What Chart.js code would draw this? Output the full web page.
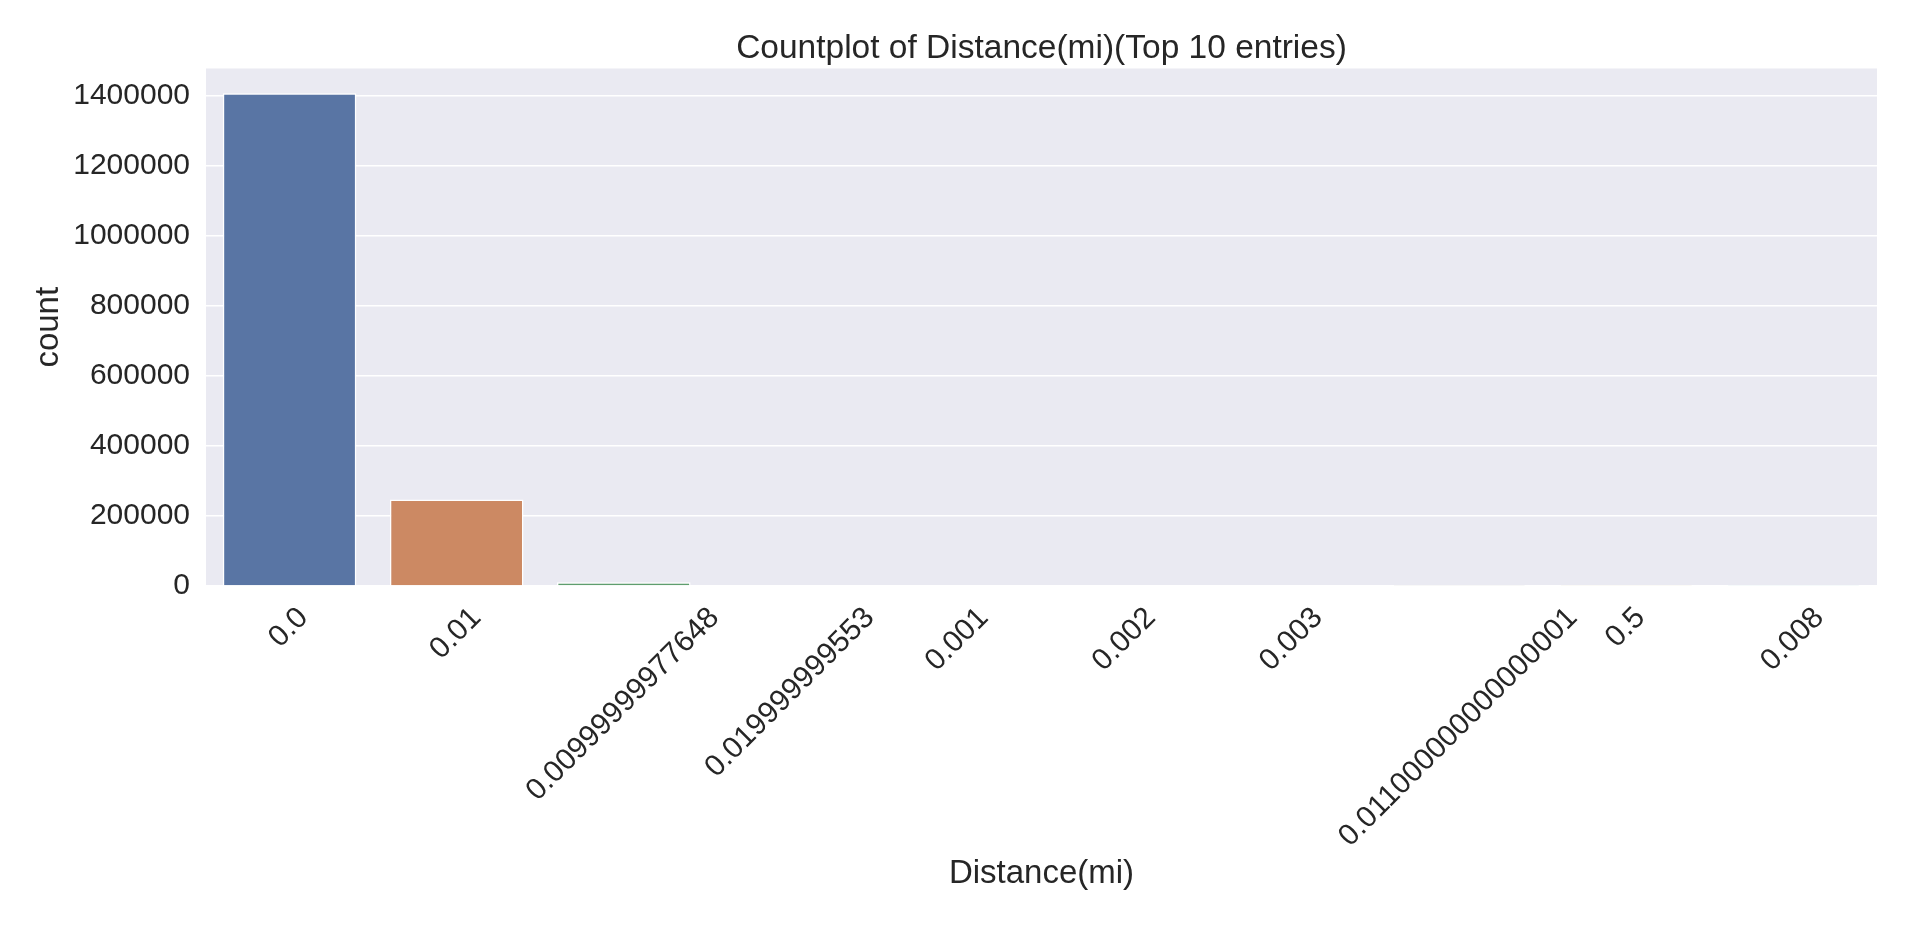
<!DOCTYPE html>
<html lang="en">
<head>
<meta charset="UTF-8">
<title>Countplot of Distance(mi)(Top 10 entries)</title>
<script src="https://cdn.jsdelivr.net/npm/chart.js@4.4.1/dist/chart.umd.min.js"></script>
<style>
    html, body { margin: 0; padding: 0; background: #ffffff; }
    #chart { display: block; }
</style>
</head>
<body>
<canvas id="chart" width="1920" height="927"></canvas>
<script>
    // data
    const categories = ['0.0', '0.01', '0.00999999977648', '0.019999999553', '0.001',
                        '0.002', '0.003', '0.011000000000000001', '0.5', '0.008'];
    const counts = [1408600, 247000, 10500, 2800, 2600, 1900, 1700, 1500, 1400, 1300];
    const barColors = ['#5975a4', '#cc8963', '#5f9e6e', '#b55d60', '#857aab',
                       '#8d7866', '#d095bf', '#8c8c8c', '#c1b37f', '#71aec0'];
    const yTicks = [0, 200000, 400000, 600000, 800000, 1000000, 1200000, 1400000];

    const textColor = '#262626';
    const tickSize = 30;
    const labelSize = 33;

    Chart.defaults.font.family = "'Liberation Sans', Arial, sans-serif";
    Chart.defaults.color = textColor;

    // white page + grey seaborn plot area
    const background = {
        id: 'background',
        beforeDraw(chart) {
            const { ctx, chartArea: a } = chart;
            ctx.save();
            ctx.fillStyle = '#ffffff';
            ctx.fillRect(0, 0, chart.width, chart.height);
            ctx.fillStyle = '#eaeaf2';
            ctx.fillRect(a.left, a.top, a.right - a.left, a.bottom - a.top);
            ctx.restore();
        }
    };

    // x labels rotated 45deg and centred on the tick, like matplotlib
    const centredXLabels = {
        id: 'centredXLabels',
        afterDraw(chart) {
            const { ctx, chartArea } = chart;
            const xs = chart.scales.x;
            const top = chartArea.bottom + 19;
            ctx.save();
            ctx.font = tickSize + "px 'Liberation Sans', Arial, sans-serif";
            ctx.fillStyle = textColor;
            ctx.textAlign = 'center';
            ctx.textBaseline = 'alphabetic';
            categories.forEach((label, i) => {
                const w = ctx.measureText(label).width;
                const side = (w + 0.6 * tickSize) / Math.SQRT2;
                ctx.save();
                ctx.translate(xs.getPixelForTick(i) - 2.5, top + side / 2);
                ctx.rotate(-Math.PI / 4);
                ctx.fillText(label, 0, 0.358 * tickSize);
                ctx.restore();
            });
            ctx.restore();
        }
    };

    new Chart(document.getElementById('chart'), {
        type: 'bar',
        data: {
            labels: categories,
            datasets: [{
                data: counts,
                backgroundColor: barColors,
                borderColor: '#ffffff',
                borderWidth: 1.5,
                barPercentage: 0.8,
                categoryPercentage: 1.0
            }]
        },
        options: {
            responsive: false,
            animation: false,
            devicePixelRatio: 1,
            layout: { padding: { left: 0, right: 43, top: 0, bottom: 0 } },
            plugins: {
                legend: { display: false },
                tooltip: { enabled: false },
                title: {
                    display: true,
                    fullSize: false, // centre over the plot area, not the page
                    text: 'Countplot of Distance(mi)(Top 10 entries)',
                    color: textColor,
                    font: { size: 33.5, weight: 'normal' },
                    padding: { top: 28.3, bottom: 0 }
                }
            },
            scales: {
                x: {
                    grid: { display: false },
                    border: { display: false },
                    ticks: { display: false },
                    title: {
                        display: true,
                        text: 'Distance(mi)',
                        color: textColor,
                        font: { size: labelSize },
                        padding: { top: 0, bottom: 32.8 }
                    },
                    afterFit(scale) { scale.height = 341; }
                },
                y: {
                    min: 0,
                    max: Math.max(...counts) * 1.05,
                    grid: { color: '#ffffff', lineWidth: 1.4, drawTicks: false },
                    border: { display: false },
                    ticks: {
                        font: { size: tickSize },
                        color: textColor,
                        padding: 16,
                        callback: (v) => String(v)
                    },
                    afterBuildTicks(scale) {
                        scale.ticks = yTicks.map((v) => ({ value: v }));
                    },
                    title: {
                        display: true,
                        text: 'count',
                        color: textColor,
                        font: { size: labelSize },
                        padding: { top: 29.6, bottom: 0 }
                    },
                    afterFit(scale) { scale.width = 206; }
                }
            }
        },
        plugins: [background, centredXLabels]
    });
</script>
</body>
</html>
